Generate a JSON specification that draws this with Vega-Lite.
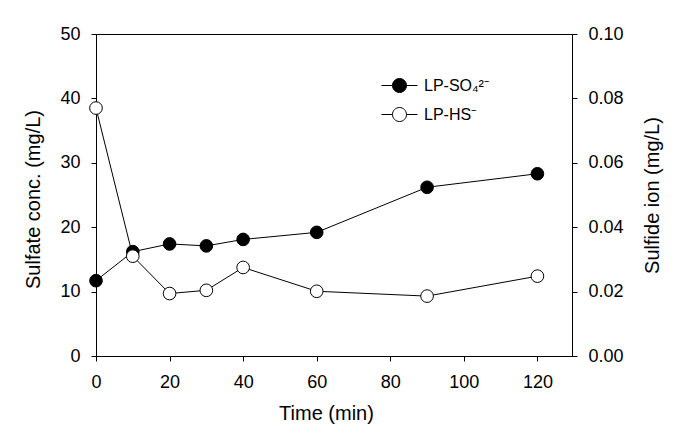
{
  "$schema": "https://vega.github.io/schema/vega-lite/v6.json",
  "width": 476,
  "height": 322,
  "autosize": {"type": "none"},
  "padding": {"left": 96, "top": 34, "right": 125, "bottom": 80},
  "background": "white",
  "config": {
    "view": {"stroke": "black", "strokeWidth": 1},
    "font": "Liberation Sans",
    "axis": {
      "grid": false,
      "domainColor": "black",
      "domainWidth": 1,
      "tickColor": "black",
      "tickWidth": 1,
      "tickSize": 5,
      "labelColor": "black",
      "titleColor": "black",
      "labelFont": "Liberation Sans",
      "titleFont": "Liberation Sans",
      "labelFontSize": 18,
      "titleFontSize": 20,
      "titleFontWeight": "normal",
      "labelFlush": false,
      "labelOverlap": false
    }
  },
  "data": {
    "values": [
      {"time": 0, "so4": 11.7, "hs": 0.077},
      {"time": 10, "so4": 16.2, "hs": 0.031},
      {"time": 20, "so4": 17.4, "hs": 0.0194},
      {"time": 30, "so4": 17.1, "hs": 0.0204},
      {"time": 40, "so4": 18.1, "hs": 0.0275},
      {"time": 60, "so4": 19.2, "hs": 0.0201},
      {"time": 90, "so4": 26.2, "hs": 0.0186},
      {"time": 120, "so4": 28.3, "hs": 0.0248}
    ]
  },
  "layer": [
    {
      "layer": [
        {
          "mark": {"type": "line", "color": "black", "strokeWidth": 1},
          "encoding": {
            "x": {"field": "time", "type": "quantitative", "scale": {"domain": [0, 129.4], "nice": false, "zero": false},
                  "axis": {"values": [0, 20, 40, 60, 80, 100, 120], "title": "Time (min)", "labelPadding": 12, "titlePadding": 12, "titleX": 230}},
            "y": {"field": "so4", "type": "quantitative", "scale": {"domain": [0, 50], "nice": false},
                  "axis": {"values": [0, 10, 20, 30, 40, 50], "title": "Sulfate conc. (mg/L)", "labelPadding": 11, "titlePadding": 16, "titleY": 165}}
          }
        },
        {
          "mark": {"type": "circle", "size": 160, "stroke": "black", "strokeWidth": 1, "opacity": 1},
          "encoding": {
            "x": {"field": "time", "type": "quantitative"},
            "y": {"field": "so4", "type": "quantitative"},
            "fill": {
              "datum": "LP-SO₄²⁻",
              "scale": {"domain": ["LP-SO₄²⁻", "LP-HS⁻"], "range": ["black", "white"]},
              "legend": {
                "orient": "none",
                "legendX": 285,
                "legendY": 33,
                "title": null,
                "symbolType": "M-1,0L-0.389,0M0.389,0L1,0M-0.389,0A0.389,0.389,0,1,1,0.389,0A0.389,0.389,0,1,1,-0.389,0Z",
                "symbolSize": 1296,
                "symbolStrokeColor": "black",
                "symbolStrokeWidth": 1,
                "symbolOpacity": 1,
                "labelFontSize": 16,
                "labelFont": "Liberation Sans",
                "labelColor": "black",
                "rowPadding": 1,
                "labelOffset": 6
              }
            }
          }
        }
      ]
    },
    {
      "layer": [
        {
          "mark": {"type": "line", "color": "black", "strokeWidth": 1},
          "encoding": {
            "x": {"field": "time", "type": "quantitative"},
            "y": {"field": "hs", "type": "quantitative", "scale": {"domain": [0, 0.1], "nice": false},
                  "axis": {"orient": "right", "values": [0, 0.02, 0.04, 0.06, 0.08, 0.1], "format": ".2f", "title": "Sulfide ion (mg/L)", "titleAngle": -90, "titleBaseline": "top", "labelPadding": 11, "titlePadding": 19}}
          }
        },
        {
          "mark": {"type": "circle", "size": 160, "stroke": "black", "strokeWidth": 1, "opacity": 1},
          "encoding": {
            "x": {"field": "time", "type": "quantitative"},
            "y": {"field": "hs", "type": "quantitative"},
            "fill": {"datum": "LP-HS⁻"}
          }
        }
      ]
    }
  ],
  "resolve": {"scale": {"y": "independent"}}
}
